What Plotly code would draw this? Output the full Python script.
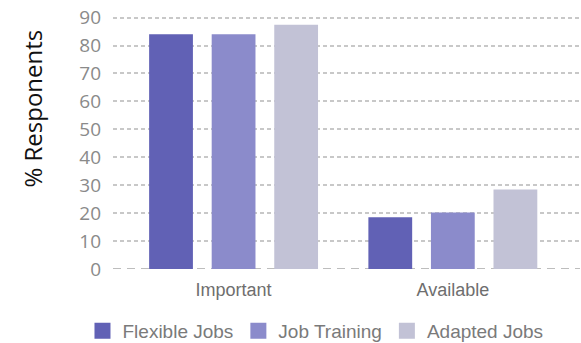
import plotly.graph_objects as go

categories = ["Important", "Available"]
series_names = ["Flexible Jobs", "Job Training", "Adapted Jobs"]
flexible_jobs = [84, 18.5]
job_training = [84, 20.2]
adapted_jobs = [87.4, 28.5]
y_ticks = [0, 10, 20, 30, 40, 50, 60, 70, 80, 90]

colors = ["#6161b5", "#8b8bcb", "#c2c2d6"]

fig = go.Figure()
for name, vals, col in zip(series_names, [flexible_jobs, job_training, adapted_jobs], colors):
    fig.add_trace(go.Bar(x=categories, y=vals, name=name, marker_color=col,
                         marker_line_width=0, showlegend=False))
    # legend-only marker so the swatch is a larger square
    fig.add_trace(go.Scatter(x=[None], y=[None], mode="markers", name=name,
                             marker=dict(symbol="square", size=18, color=col)))

# dashed baseline
fig.add_hline(y=0, line=dict(color="#bdbdbd", width=2, dash="8px,6px"), layer="below")

# y title sits above the plot's middle in the reference, so use an annotation
fig.add_annotation(text="% Responents", textangle=-90, showarrow=False,
                   xref="paper", yref="paper", x=-0.173, y=0.625,
                   xanchor="center", yanchor="middle",
                   font=dict(family="Open Sans", size=24, color="#111"))

fig.update_layout(
    width=581, height=343,
    margin=dict(l=113, r=1, t=12, b=74, autoexpand=False),
    paper_bgcolor="white", plot_bgcolor="white",
    barmode="group", bargap=0.144, bargroupgap=0.3,
    showlegend=True,
    legend=dict(orientation="h", x=0.543, xanchor="center", xref="container",
                y=-0.241, yanchor="middle",
                font=dict(family="Liberation Sans, Arial", size=19, color="#7a7a7a"),
                itemwidth=30, tracegroupgap=0),
    font=dict(family="Liberation Sans, Arial"),
)
fig.update_xaxes(range=[-0.55, 1.58], showgrid=False, showline=False, ticks="",
                 ticklabelstandoff=8,
                 tickfont=dict(family="Liberation Sans, Arial", size=18, color="#6e6e6e"))
fig.update_yaxes(range=[0, 92], tickvals=y_ticks, showgrid=True, gridcolor="#c8c8c8",
                 griddash="4px,3px", gridwidth=1.5, zeroline=False,
                 showline=False, ticks="", ticklabelstandoff=11, ticklabeloverflow="allow",
                 tickfont=dict(family="Open Sans", size=19, color="#8a8a8a"))

# drop the default 8px body margin so the figure fills the window exactly
fig.write_html("out.html", config={"displayModeBar": False},
               post_script="document.body.style.margin='0';")
